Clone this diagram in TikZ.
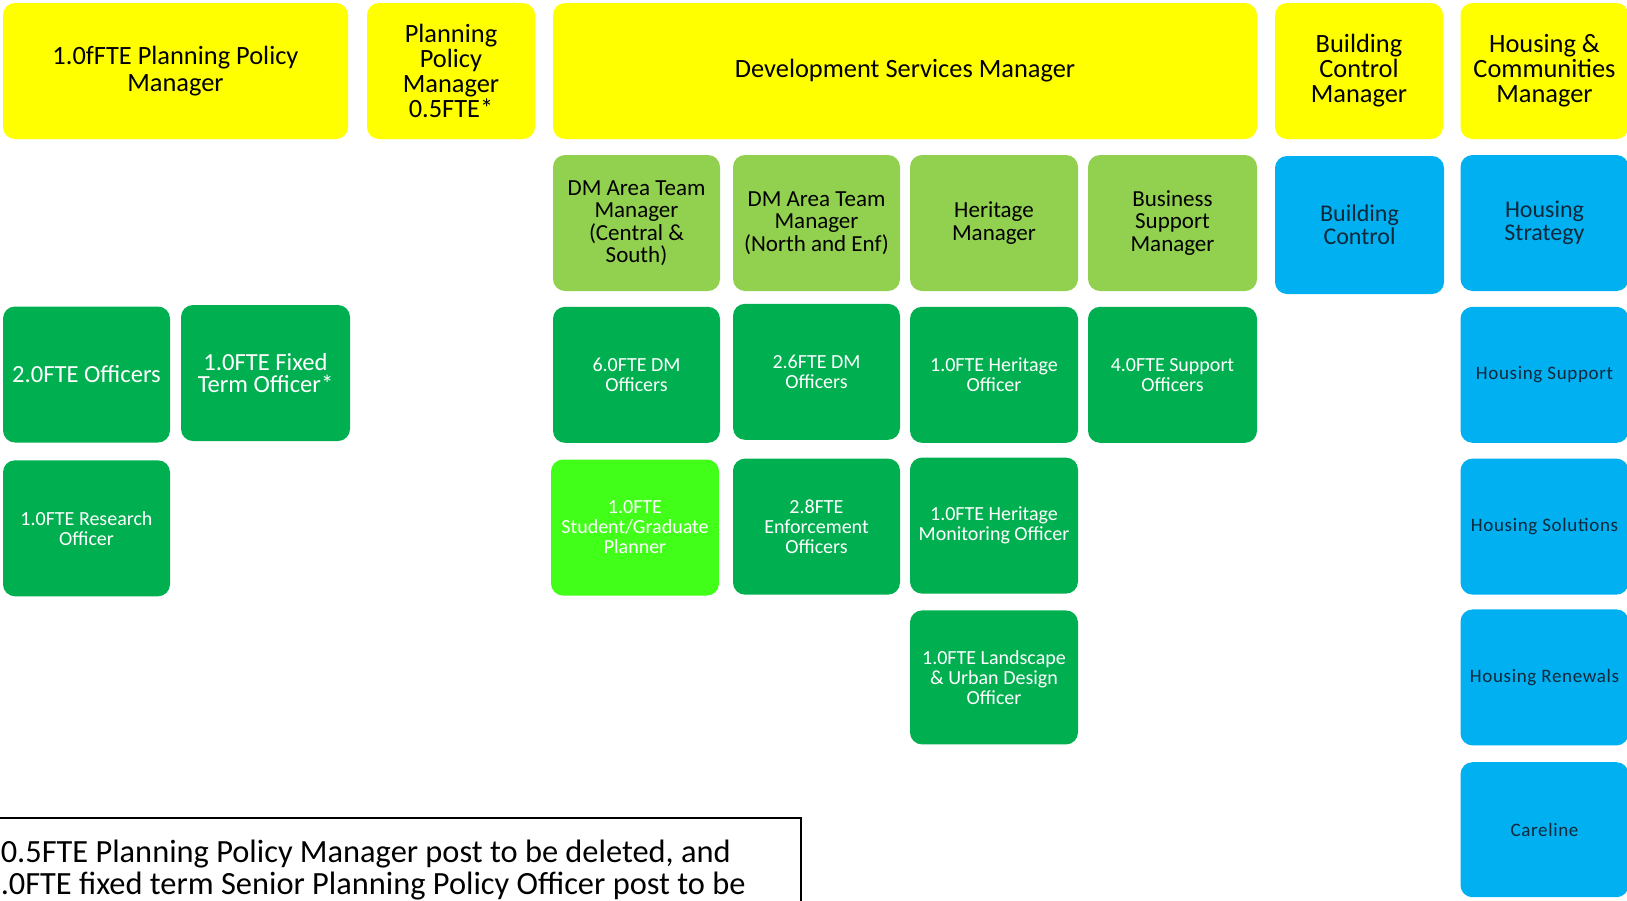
\documentclass[tikz,border=0pt]{standalone}
\usepackage{fontspec}
\setmainfont{Carlito}
\usetikzlibrary{positioning}
\definecolor{headyellow}{RGB}{255,255,0}
\definecolor{teamgreen}{RGB}{146,208,80}
\definecolor{staffgreen}{RGB}{0,176,80}
\definecolor{traineegreen}{RGB}{66,255,26}
\definecolor{housingblue}{RGB}{0,176,240}
\definecolor{housingtext}{RGB}{14,40,60}
\tikzset{
  post box/.style={rectangle,rounded corners=6pt,inner sep=1pt,align=center,
    minimum width=83.5pt,minimum height=68pt},
  head post/.style={post box,fill=headyellow,text=black,
    font=\fontsize{13.2}{12.5}\selectfont},
  team post/.style={post box,fill=teamgreen,text=black,
    font=\fontsize{11.5}{11.25}\selectfont},
  staff post/.style={post box,fill=staffgreen,text=white,
    font=\fontsize{10}{10}\selectfont},
  trainee post/.style={staff post,fill=traineegreen},
  housing post/.style={post box,fill=housingblue,text=housingtext,
    font=\fontsize{12}{11.5}\selectfont},
  service post/.style={housing post,
    font=\fontsize{9.5}{10}\selectfont\addfontfeature{LetterSpace=3.5}},
  note box/.style={draw=black,line width=0.75pt,align=flush left,
    font=\fontsize{16.2}{16.3}\selectfont}
}

\begin{document}
\begin{tikzpicture}[x=0.5pt,y=-0.5pt]
  \useasboundingbox (0,0) rectangle (1627,900);
  \clip (0,0) rectangle (1627,900);

  % heads of service
  \node[head post,minimum width=172.5pt,font=\fontsize{13.2}{13.5}\selectfont]
    (policy) at (175.5,71) {1.0fFTE Planning Policy\\Manager};
  \node[head post,minimum width=84pt] (policyhalf) at (451,71)
    {Planning\\Policy\\Manager\\0.5FTE*};
  \node[head post,minimum width=352pt] (devservices) at (905,71)
    {Development Services Manager};
  \node[head post,minimum width=84pt] (bcmanager) at (1359,71)
    {Building\\Control\\Manager};
  \node[head post,minimum width=84pt] (hcmanager) at (1544.5,71)
    {Housing \&\\Communities\\Manager};

  % planning policy team
  \node[staff post,font=\fontsize{12.3}{10.7}\selectfont] (ppofficers)
    at (86.5,374.5) {2.0FTE Officers};
  \node[staff post,minimum width=84.5pt,font=\fontsize{12.3}{10.7}\selectfont]
    (ppfixed) at (265.5,373) {1.0FTE Fixed\\Term Officer*};
  \node[staff post,below=8.5pt of ppofficers] (ppresearch)
    {1.0FTE Research\\Officer};

  % development management teams
  \node[team post] (dmcentral) at (636.5,223)
    {DM Area Team\\Manager\\(Central \&\\South)};
  \node[team post] (dmnorth) at (816.5,223)
    {DM Area Team\\Manager\\(North and Enf)};
  \node[team post,minimum width=84pt] (heritage) at (994,223)
    {Heritage\\Manager};
  \node[team post,minimum width=84.5pt] (business) at (1172.5,223)
    {Business\\Support\\Manager};

  \node[staff post,below=7.5pt of dmcentral] (dmofficers)
    {6.0FTE DM\\Officers};
  \node[staff post,below=6pt of dmnorth] (dmnorthofficers)
    {2.6FTE DM\\Officers};
  \node[staff post,minimum width=84pt,below=7.5pt of heritage] (heritageofficer)
    {1.0FTE Heritage\\Officer};
  \node[staff post,minimum width=84.5pt,below=7.5pt of business] (supportofficers)
    {4.0FTE Support\\Officers};

  \node[trainee post,minimum width=84pt] (graduate) at (635,527.5)
    {1.0FTE\\Student/Graduate\\Planner};
  \node[staff post,below=9pt of dmnorthofficers] (enforcement)
    {2.8FTE\\Enforcement\\Officers};
  \node[staff post,minimum width=84pt,below=7pt of heritageofficer] (monitoring)
    {1.0FTE Heritage\\Monitoring Officer};
  \node[staff post,minimum width=84pt,minimum height=67pt,below=8pt of monitoring]
    (landscape) {1.0FTE Landscape\\\& Urban Design\\Officer};

  % building control and housing
  \node[housing post,minimum width=84.5pt,minimum height=69pt] (bcontrol)
    at (1359.5,225) {Building\\Control};
  \node[housing post,minimum width=84pt] (hstrategy) at (1544.5,223)
    {Housing\\Strategy};
  \node[service post,minimum width=84pt,below=7.5pt of hstrategy] (hsupport)
    {Housing Support};
  \node[service post,minimum width=84pt,below=7.5pt of hsupport] (hsolutions)
    {Housing Solutions};
  \node[service post,minimum width=84pt,below=7pt of hsolutions] (hrenewals)
    {Housing Renewals};
  \node[service post,minimum width=84pt,minimum height=67.5pt,below=8pt of hrenewals]
    (careline) {Careline};

  % footnote on the policy posts
  \node[note box,anchor=north west,inner xsep=4pt,inner ysep=11pt,text width=396pt]
    (note) at (-8,817)
    {0.5FTE Planning Policy Manager post to be deleted, and\\
     .0FTE fixed term Senior Planning Policy Officer post to be};
\end{tikzpicture}
\end{document}
